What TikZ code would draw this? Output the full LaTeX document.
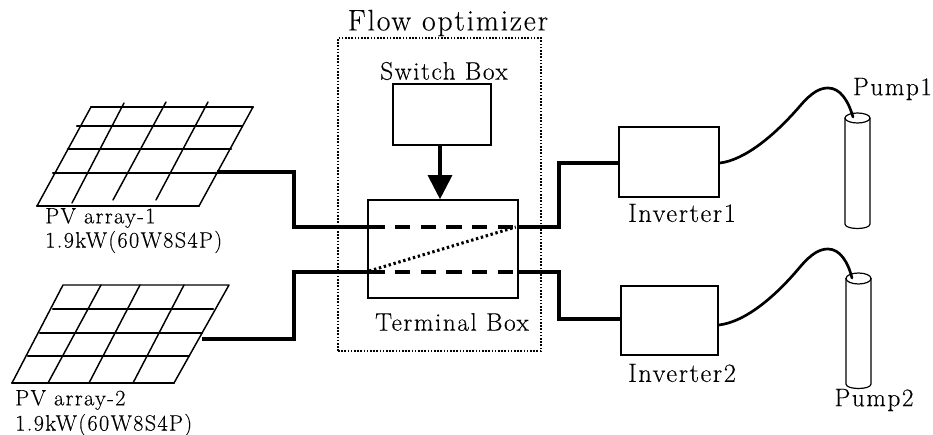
\documentclass[tikz,border=0pt]{standalone}
\usepackage{fontspec}
\setmainfont[LetterSpace=6,FakeBold=0.25]{Latin Modern Roman}
\usetikzlibrary{arrows.meta,calc}
\tikzset{
  x=0.75pt,y=-0.75pt,
  box/.style={draw,line width=1.2pt,inner sep=0pt,rectangle},
  grid/.style={line width=1.1pt,line cap=round,line join=round},
  gridb/.style={line width=1.6pt,line cap=round},
  wire/.style={line width=2.3pt,line join=miter},
  hose/.style={line width=2pt,line cap=round},
  dashw/.style={line width=2.6pt,dash pattern=on 11.5pt off 7.8pt},
  dotw/.style={line width=2.3pt,dash pattern=on 1.8pt off 2pt},
  lab/.style={inner sep=0pt,font=\fontsize{19}{21}\selectfont},
  labl/.style={inner sep=0pt,anchor=west,font=\fontsize{16.7}{18}\selectfont},
  pump/.style={line width=0.9pt}
}
\begin{document}
\begin{tikzpicture}
\useasboundingbox (0,0) rectangle (933,435);
% outer group
\node[draw,line width=0.9pt,dash pattern=on 1.2pt off 1.2pt,inner sep=0pt,minimum width=152.25pt,minimum height=234.75pt] (opt) at (439.5,194.5) {};
\node[lab,font=\fontsize{22.3}{24}\selectfont] (opttxt) at (448,23) {Flow optimizer};
% boxes
\node[box,minimum width=73.5pt,minimum height=45.75pt] (sw) at (442,114.5) {};
\node[box,minimum width=112.5pt,minimum height=73.5pt] (tb) at (443,249) {};
\node[box,minimum width=75pt,minimum height=52.5pt] (inv1) at (669,162) {};
\node[box,minimum width=72.75pt,minimum height=51.75pt] (inv2) at (669.5,320.5) {};
\node[lab] (swtxt) at (444,71) {Switch Box};
\node[lab] (tbtxt) at (452,322) {Terminal Box};
\node[lab,font=\fontsize{19.8}{21}\selectfont] (i1txt) at (682,213) {Inverter1};
\node[lab,font=\fontsize{19.8}{21}\selectfont] (i2txt) at (682,373) {Inverter2};
\node[lab] (p1txt) at (892.5,89) {Pump1};
\node[lab] (p2txt) at (874,400) {Pump2};
\node[labl] (a1a) at (45,218) {PV array-1};
\node[labl] (a1b) at (45,242) {1.9kW(60W8S4P)};
\node[labl] (a2a) at (15,400) {PV array-2};
\node[labl] (a2b) at (15,425) {1.9kW(60W8S4P)};
% PV array 1
\draw[grid] (91,107)--(253,107)--(199,206)--(37,206)--cycle;
\draw[gridb] (91,107)--(253,107) (37,206)--(199,206);
\draw[gridb] (77,126)--(242,126) (68,149)--(231,149) (53,173)--(217,173);
\draw[grid] (124,103)--(72,203) (166,102)--(113,200) (208,102)--(156,200);
% PV array 2
\draw[grid] (63,285)--(229,285)--(174,383)--(12,383)--cycle;
\draw[gridb] (12,383)--(174,383);
\draw[gridb] (53,309)--(213,309) (40,333)--(202,333) (28,356)--(189,356);
\draw[grid] (101,285)--(48,383) (140,285)--(89,383) (184,285)--(133,383);
% wires
\coordinate (a1) at (217,172);
\coordinate (a2) at (202,339);
\coordinate (j1) at (294,227);
\coordinate (j2) at (294,272);
\coordinate (k1) at (559,227);
\coordinate (k2) at (559,272);
\draw[wire] (a1) -| (j1) -- (j1 -| tb.west);
\draw[wire] (a2) -| (j2) -- (j2 -| tb.west);
\draw[wire] (k1 -| tb.east) -- (k1) |- (inv1.west |- 0,163);
\draw[wire] (k2 -| tb.east) -- (k2) |- (inv2.west |- 0,319);
% inside terminal box
\draw[dashw] (tb.west |- k1) ++(2,0) -- ($(tb.east |- k1)+(-2,0)$);
\draw[dashw] (tb.west |- k2) ++(2,0) -- ($(tb.east |- k2)+(-2,0)$);
\draw[dotw] ($(tb.west |- k2)+(2,-1)$) -- ($(tb.east |- k1)+(-3,0)$);
% arrow
\draw[wire,-{Triangle[length=18pt,width=18pt]}] (sw.south -| 440,0) -- (tb.north -| 440,0);
% hoses and pumps
\coordinate (p1in) at (853,117);
\coordinate (p2in) at (852,278);
\draw[hose] (inv1.east |- 0,163) .. controls (745,160) and (775,135) .. (800,106)
  .. controls (812,92) and (820,88) .. (828,88)
  .. controls (840,88) and (848,100) .. (p1in);
\draw[hose] (inv2.east |- 0,325) .. controls (745,322) and (775,297) .. (800,267)
  .. controls (812,253) and (820,249) .. (828,249)
  .. controls (840,249) and (848,262) .. (p2in);
\draw[pump] (845,118) -- (845,224) .. controls (845,230) and (870,230) .. (870,224) -- (870,118);
\draw[pump] (857.5,118) ellipse [x radius=12.5,y radius=5];
\draw[pump] (846,278) -- (846,384) .. controls (846,390) and (871,390) .. (871,384) -- (871,278);
\draw[pump] (858.5,278.5) ellipse [x radius=12.5,y radius=5.5];
\end{tikzpicture}
\end{document}
